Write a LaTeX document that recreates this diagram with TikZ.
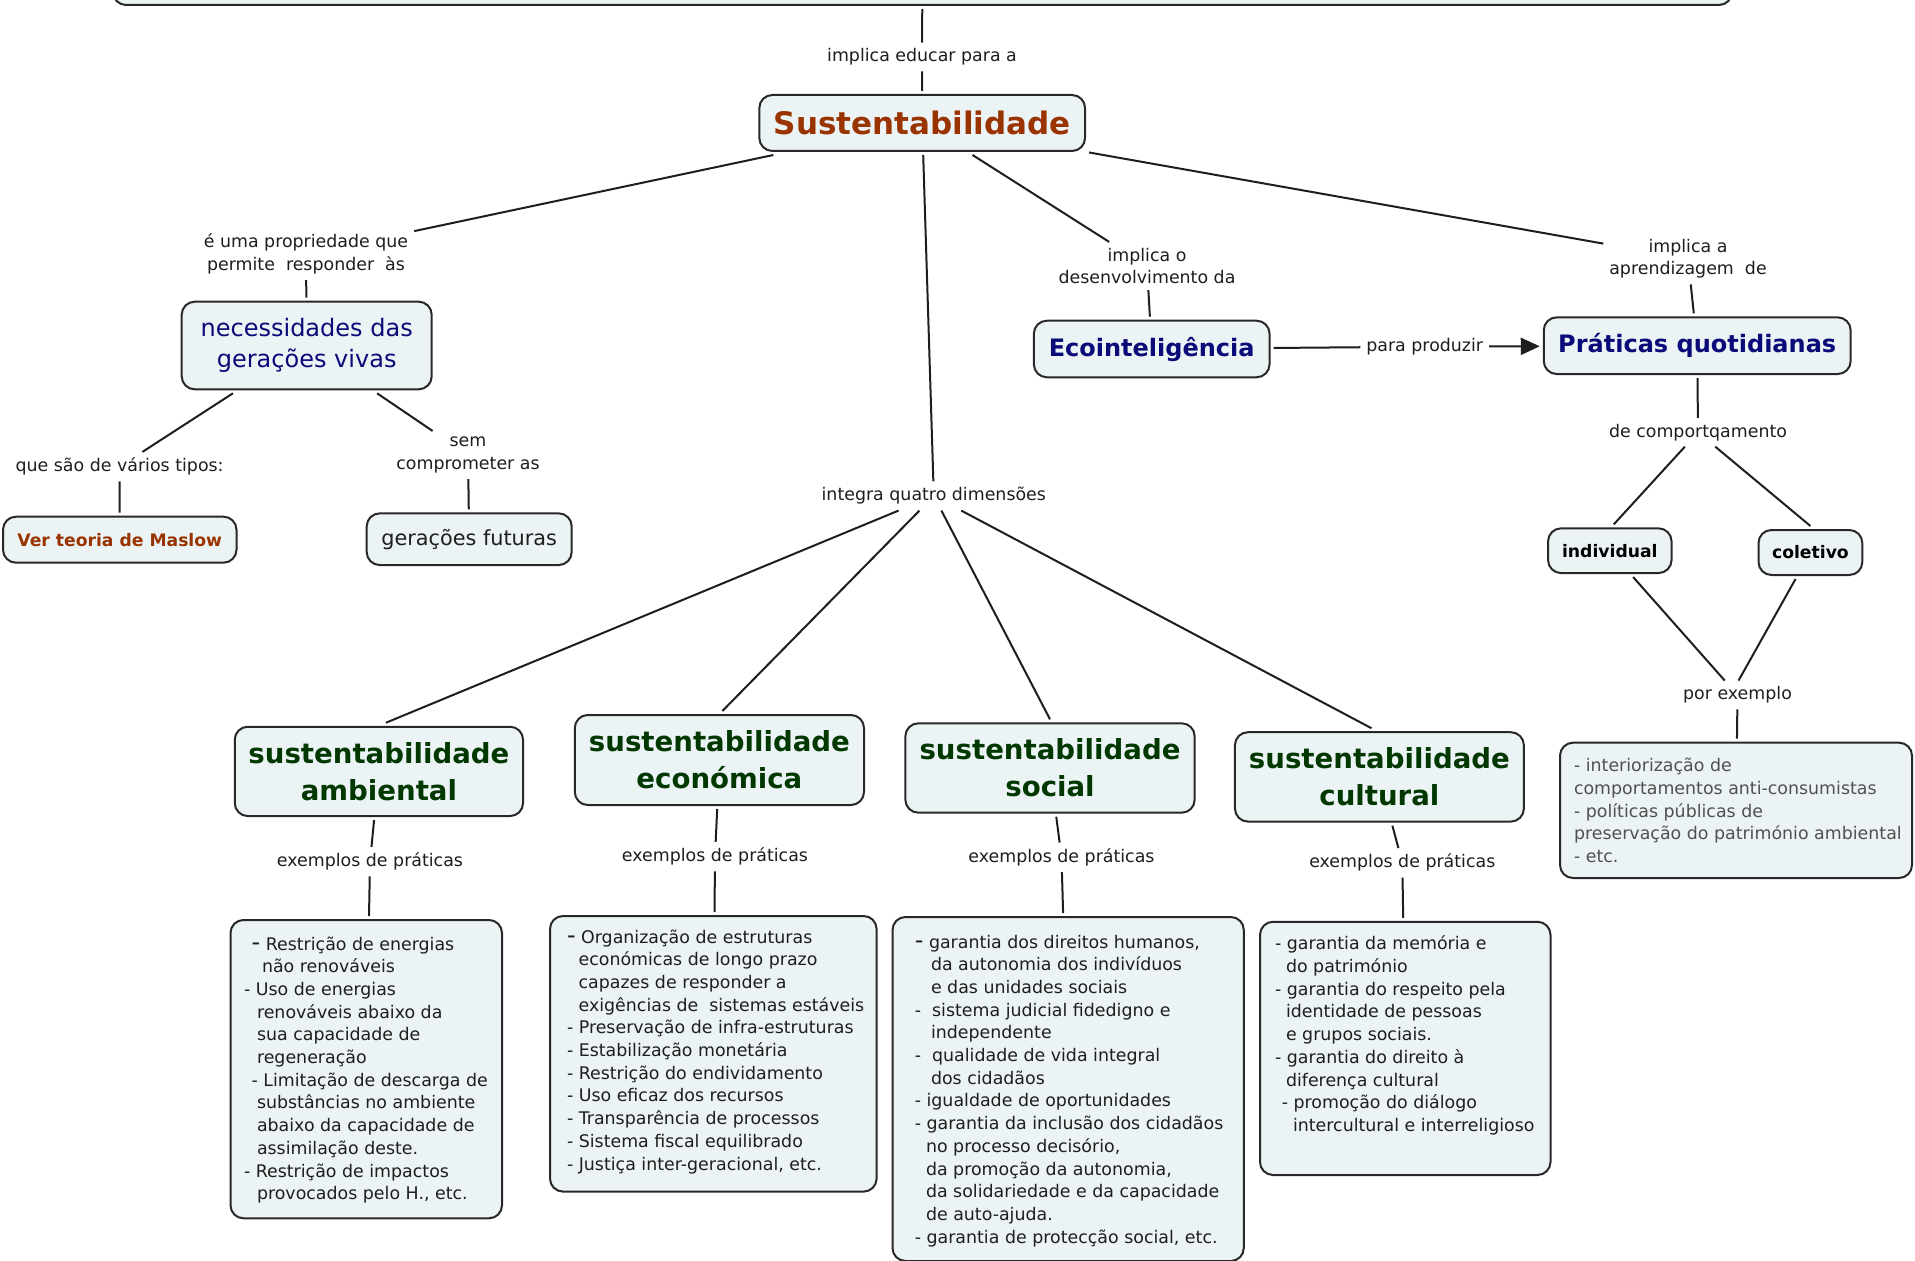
\documentclass[tikz,border=0pt]{standalone}
\usepackage{fontspec}
\setmainfont{DejaVu Sans}
\usetikzlibrary{calc,arrows.meta}

\definecolor{boxfill}{RGB}{236,243,245}
\definecolor{boxline}{RGB}{40,40,40}
\definecolor{linkc}{RGB}{30,30,30}
\definecolor{brownc}{RGB}{153,51,0}
\definecolor{navyc}{RGB}{10,10,120}
\definecolor{greenc}{RGB}{0,56,0}
\definecolor{textc}{RGB}{30,30,30}
\definecolor{grayc}{RGB}{80,80,80}

\newcommand\bodyfont{\fontsize{8.7pt}{11.35pt}\selectfont}
\newcommand\bigdash{{\fontsize{12pt}{11pt}\selectfont -}}
% one line of an example list: indent, text
\newcommand\exl[2]{\mbox{\hspace*{#1}#2}\par}
% first line, with a strut that fixes the first baseline
\newcommand\exfirst[3]{\mbox{\rule{0pt}{#1}\hspace*{#2}#3}\par}
% top-aligned body of a list box: width, height, lines
\newcommand\exbody[3]{\parbox[c][#2][t]{#1}{\bodyfont\parindent=0pt\parskip=0pt #3}}

\tikzset{
  box/.style={draw=boxline, fill=boxfill, line width=1pt, rounded corners=6.5pt,
    inner sep=0pt, outer sep=2pt, align=center},
  lbl/.style={text=textc, font=\bodyfont, inner sep=3pt, outer sep=0pt, align=center},
  conn/.style={draw=linkc, line width=1pt},
  dimbox/.style={box, text=greenc, font=\fontsize{13.8pt}{18.35pt}\selectfont\bfseries},
  listbox/.style={box, text=textc, align=left},
}

\begin{document}
\begin{tikzpicture}[x=0.5pt, y=-0.5pt]
\useasboundingbox (0,0) rectangle (1915,1261);
\fill[white] (0,0) rectangle (1915,1261);

% ---------- concepts ----------
\node[box, minimum width=809.5pt, minimum height=40pt] (top) at (922.5,-35) {};

\node[box, text=brownc, font=\fontsize{15.5pt}{18pt}\selectfont\bfseries,
  minimum width=162.85pt, minimum height=28pt] (sust) at (922.2,123) {Sustentabilidade};

\node[box, text=navyc, font=\fontsize{12pt}{15.85pt}\selectfont,
  minimum width=125pt, minimum height=43.8pt] (nec) at (306.7,345.5) {necessidades das\\gerações vivas};

\node[box, text=brownc, font=\fontsize{8.6pt}{10pt}\selectfont\bfseries,
  minimum width=116.75pt, minimum height=23pt] (maslow) at (119.75,539.7) {Ver teoria de Maslow};

\node[box, text=textc, font=\fontsize{10.4pt}{12pt}\selectfont,
  minimum width=102.5pt, minimum height=25.85pt] (fut) at (469.2,539.2) {gerações futuras};

\node[box, text=navyc, font=\fontsize{12pt}{14pt}\selectfont\bfseries,
  minimum width=117.85pt, minimum height=28.3pt] (ecoi) at (1151.7,349) {Ecointeligência};

\node[box, text=navyc, font=\fontsize{12pt}{14pt}\selectfont\bfseries,
  minimum width=153.45pt, minimum height=28.35pt] (prat) at (1697.2,345.7) {Práticas quotidianas};

\node[box, text=black, font=\fontsize{8.6pt}{10pt}\selectfont\bfseries,
  minimum width=61.75pt, minimum height=22.35pt] (indiv) at (1609.8,550.7) {individual};

\node[box, text=black, font=\fontsize{8.6pt}{10pt}\selectfont\bfseries,
  minimum width=51.9pt, minimum height=22.5pt] (colet) at (1810.4,552.5) {coletivo};

\node[dimbox, minimum width=144.15pt, minimum height=44.65pt] (amb) at (378.9,771.4) {sustentabilidade\\ambiental};
\node[dimbox, minimum width=144.6pt, minimum height=45pt] (eco) at (719.4,760) {sustentabilidade\\económica};
\node[dimbox, minimum width=144.65pt, minimum height=44.7pt] (soc) at (1050,768) {sustentabilidade\\social};
\node[dimbox, minimum width=144.45pt, minimum height=44.7pt] (cult) at (1379.4,776.9) {sustentabilidade\\cultural};

% ---------- lists of examples ----------
\node[listbox] (ambBox) at (366.25,1069.15) {\exbody{135.75pt}{149.15pt}{%
  \exfirst{15pt}{10.55pt}{\bigdash\ Restrição de energias}
  \exl{15.75pt}{não renováveis}
  \exl{6.75pt}{- Uso de energias}
  \exl{13.25pt}{renováveis abaixo da}
  \exl{13.25pt}{sua capacidade de}
  \exl{13.25pt}{regeneração}
  \exl{10.55pt}{- Limitação de descarga de}
  \exl{13.25pt}{substâncias no ambiente}
  \exl{13.25pt}{abaixo da capacidade de}
  \exl{13.25pt}{assimilação deste.}
  \exl{6.75pt}{- Restrição de impactos}
  \exl{13.25pt}{provocados pelo H., etc.}}};

\node[listbox] (ecoBox) at (713.3,1053.8) {\exbody{163.3pt}{137.8pt}{%
  \exfirst{13.5pt}{8.5pt}{\bigdash\ Organização de estruturas}
  \exl{14.3pt}{económicas de longo prazo}
  \exl{14.3pt}{capazes de responder a}
  \exl{14.3pt}{exigências de\ \ sistemas estáveis}
  \exl{8.5pt}{- Preservação de infra-estruturas}
  \exl{8.5pt}{- Estabilização monetária}
  \exl{8.5pt}{- Restrição do endividamento}
  \exl{8.5pt}{- Uso eficaz dos recursos}
  \exl{8.5pt}{- Transparência de processos}
  \exl{8.5pt}{- Sistema fiscal equilibrado}
  \exl{8.5pt}{- Justiça inter-geracional, etc.}}};

\node[listbox] (socBox) at (1068.15,1089) {\exbody{175.65pt}{172pt}{%
  \exfirst{15.5pt}{11.15pt}{\bigdash\ garantia dos direitos humanos,}
  \exl{19.25pt}{da autonomia dos indivíduos}
  \exl{19.25pt}{e das unidades sociais}
  \exl{11.15pt}{-\ \ sistema judicial fidedigno e}
  \exl{19.25pt}{independente}
  \exl{11.15pt}{-\ \ qualidade de vida integral}
  \exl{19.25pt}{dos cidadãos}
  \exl{11.15pt}{- igualdade de oportunidades}
  \exl{11.15pt}{- garantia da inclusão dos cidadãos}
  \exl{16.75pt}{no processo decisório,}
  \exl{16.75pt}{da promoção da autonomia,}
  \exl{16.75pt}{da solidariedade e da capacidade}
  \exl{16.75pt}{de auto-ajuda.}
  \exl{11.15pt}{- garantia de protecção social, etc.}}};

\node[listbox] (cultBox) at (1405.25,1048.4) {\exbody{145.25pt}{126.6pt}{%
  \exfirst{14pt}{7.5pt}{- garantia da memória e}
  \exl{13pt}{do património}
  \exl{7.5pt}{- garantia do respeito pela}
  \exl{13pt}{identidade de pessoas}
  \exl{13pt}{e grupos sociais.}
  \exl{7.5pt}{- garantia do direito à}
  \exl{13pt}{diferença cultural}
  \exl{10.9pt}{- promoção do diálogo}
  \exl{16.5pt}{intercultural e interreligioso}}};

\node[listbox, text=grayc] (rBox) at (1736,810.35) {\exbody{176pt}{67.65pt}{%
  \exfirst{14.5pt}{7pt}{- interiorização de}
  \exl{7pt}{comportamentos anti-consumistas}
  \exl{7pt}{- políticas públicas de}
  \exl{7pt}{preservação do património ambiental}
  \exl{7pt}{- etc.}}};

% ---------- linking phrases ----------
\node[lbl] (l0) at (922,57) {implica educar para a};
\node[lbl] (lProp) at (306,254) {é uma propriedade que\\permite\ \ responder\ \ às};
\node[lbl] (lTipos) at (119.6,466.7) {que são de vários tipos:};
\node[lbl] (lSem) at (468,455) {sem\\comprometer as};
\node[lbl] (lDev) at (1147,266) {implica o\\desenvolvimento da};
\node[lbl] (lApr) at (1688,258.6) {implica a\\aprendizagem\ \ de};
\node[lbl] (lProd) at (1424.7,346.7) {para produzir};
\node[lbl] (lComp) at (1698,432.3) {de comportqamento};
\node[lbl] (lEx) at (1737.5,695) {por exemplo};
\node[lbl] (lInt) at (933.8,496) {integra quatro dimensões};
\node[lbl] (lExA) at (370,861.7) {exemplos de práticas};
\node[lbl] (lExE) at (715,856.7) {exemplos de práticas};
\node[lbl] (lExS) at (1061.5,857.4) {exemplos de práticas};
\node[lbl] (lExC) at (1402.3,862.8) {exemplos de práticas};

% ---------- connectors ----------
\draw[conn] (top) -- (l0);
\draw[conn] (l0) -- (sust);
\draw[conn] ($(sust.south west)+(18,0)$) -- (lProp);
\draw[conn] (lProp) -- (nec);
\draw[conn] (nec) -- (lTipos);
\draw[conn] (lTipos) -- (maslow);
\draw[conn] (nec) -- (lSem);
\draw[conn] (lSem) -- (fut);
\draw[conn] (sust) -- (lDev);
\draw[conn] (lDev) -- (ecoi);
\draw[conn] (sust) -- (lApr);
\draw[conn] (lApr) -- (prat);
\draw[conn] (ecoi) -- (lProd);
\draw[conn, -{Triangle[length=9.5pt,width=8.5pt]}] (lProd) -- (prat);
\draw[conn] (prat) -- (lComp);
\draw[conn] (lComp) -- ($(indiv.north)+(4,0)$);
\draw[conn] (lComp) -- (colet.north);
\draw[conn] (indiv) -- (lEx);
\draw[conn] (colet) -- ($(lEx.north)+(1,0)$);
\draw[conn] (lEx) -- (rBox);
\draw[conn] (sust) -- (lInt);
\draw[conn] (lInt) -- ($(amb.north)+(7,0)$);
\draw[conn] (lInt) -- ($(eco.north)+(3,0)$);
\draw[conn] (lInt) -- (soc.north);
\draw[conn] (lInt) -- ($(cult.north)+(-8,0)$);
\draw[conn] (amb) -- (lExA);
\draw[conn] (lExA) -- (ambBox);
\draw[conn] (eco) -- (lExE);
\draw[conn] (lExE) -- (ecoBox);
\draw[conn] (soc) -- (lExS);
\draw[conn] (lExS) -- (socBox);
\draw[conn] (cult) -- (lExC);
\draw[conn] (lExC) -- (cultBox);
\end{tikzpicture}
\end{document}
